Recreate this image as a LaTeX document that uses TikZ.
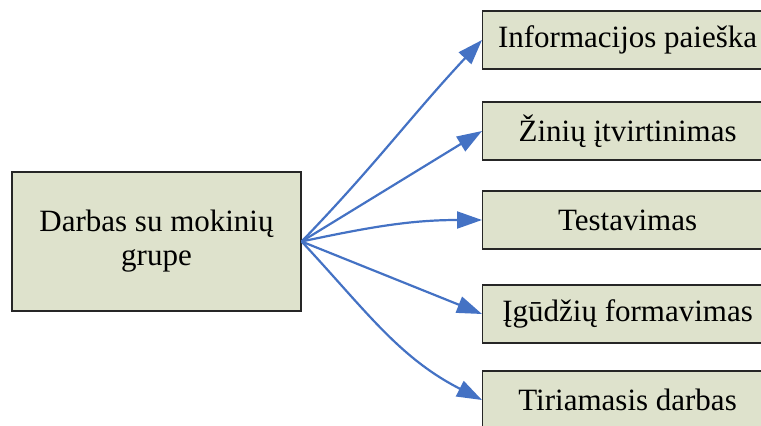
\documentclass[tikz,border=0pt]{standalone}
\usepackage{fontspec}
\setmainfont{Liberation Serif}
\usetikzlibrary{arrows.meta}
\definecolor{boxfill}{HTML}{DEE2CC}
\definecolor{arrowblue}{HTML}{4472C4}
\tikzset{
  task/.style={draw=black!85, line width=1.2pt, fill=boxfill, minimum width=290pt,
    minimum height=58pt, anchor=west, inner sep=0pt,
    font=\fontsize{31}{34}\selectfont},
  link/.style={draw=arrowblue, line width=2.2pt,
    -{Triangle[length=25pt,width=17pt]}}
}
\begin{document}
\begin{tikzpicture}[x=1pt,y=-1pt]
\useasboundingbox (0,0) rectangle (761,426);
    \node[draw=black!85, line width=1.2pt, fill=boxfill, minimum width=289pt,
      minimum height=139pt, inner sep=0pt, align=center,
      font=\fontsize{31}{34}\selectfont] (grupe) at (156.5,241.5)
      {Darbas su mokinių\\grupe};
    \node[task] (paieska) at (482,40)  {Informacijos paieška};
    \node[task] (zinios)  at (482,131) {Žinių įtvirtinimas};
    \node[task] (testas)  at (482,220) {Testavimas};
    \node[task] (igudz)   at (482,314) {Įgūdžių formavimas};
    \node[task] (tyrimas) at (482,400) {Tiriamasis darbas};
    \draw[link] (grupe.east) to[out=46,in=227] (paieska.west);
    \draw[link] (grupe.east) -- (zinios.west);
    \draw[link] (grupe.east) to[out=12,in=180] (testas.west);
    \draw[link] (grupe.east) -- (igudz.west);
    \draw[link] (grupe.east) to[out=-47,in=153] (tyrimas.west);
\end{tikzpicture}
\end{document}
